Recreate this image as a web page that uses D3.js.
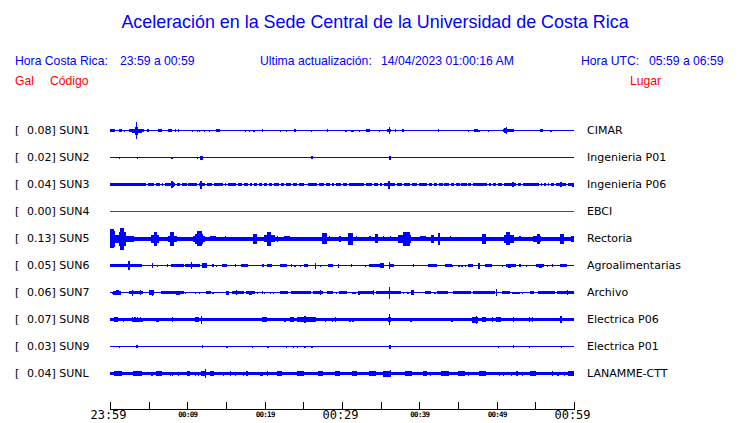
<!DOCTYPE html>
<html><head><meta charset="utf-8">
<script src="https://cdn.jsdelivr.net/npm/d3@7"></script>
<style>
html,body{margin:0;padding:0;background:#fff;}
svg{display:block;}
text{white-space:pre;}
</style></head>
<body>
<svg id="c" width="740" height="423"></svg>
<script>
// ---------------- DATA ----------------
const title = "Aceleración en la Sede Central de la Universidad de Costa Rica";
const stations = ["SUN1","SUN2","SUN3","SUN4","SUN5","SUN6","SUN7","SUN8","SUN9","SUNL"];
const peakGal = [0.08,0.02,0.04,0.00,0.13,0.05,0.06,0.07,0.03,0.04];
const places = ["CIMAR","Ingenieria P01","Ingenieria P06","EBCI","Rectoria","Agroalimentarias","Archivo","Electrica P06","Electrica P01","LANAMME-CTT"];
const traceColors = ["#0000ff","#0000ff","#0000ff","#ff0000","#0000ff","#0000ff","#0000ff","#0000ff","#0000ff","#0000ff"];
// background (noise) half-amplitude of each trace
const baseAmp = [0.5,0.5,1.5,0.5,2,0.5,0.5,1.5,0.5,1.5];
// bursts per station: [start minute, end minute, half amplitude] (minutes after 23:59)
const evSUN1 = [[0,0.6,1.5],[1.2,1.4,1.5],[1.8,1.8,1],[2.5,3.2,1.5],[2.9,4.0,2],[3.3,3.5,4],[3.4,3.4,8.7],[3.4,4.3,1.5],
 [4.8,5.0,1.5],[6.3,6.6,1.5],[7.5,7.9,1.5],[8.4,8.4,1.5],[8.8,8.8,1.5],[10.6,10.6,1],[11.25,11.25,1],[11.6,11.6,1],
 [12.2,12.2,1],[12.8,12.8,1],[13.7,14.1,1.5],[15.8,15.8,0.8],[17.5,17.5,1],[18.0,18.0,1],[18.6,18.6,1],[19.7,19.7,1.5],
 [22.0,22.0,1],[22.8,22.8,1],[23.9,23.9,1.5],[26.0,26.0,1],[28.1,28.1,1.5],[30.5,30.5,1],[31.2,31.2,1],[31.4,31.4,1],
 [32.2,32.2,1],[33.2,33.5,1.5],[34.8,34.8,1],[35.2,35.2,0.8],[35.9,36.2,1.5],[36.1,36.1,3.5],[36.9,36.9,1.5],
 [37.8,37.9,1.5],[39.2,39.2,0.8],[42.4,42.4,1.5],[46.3,46.3,1],[47.1,47.5,1.5],[47.7,47.7,1],[48.9,48.9,1],
 [50.9,52.1,1.5],[51.0,51.3,2.5],[51.2,51.2,3.5],[55.6,55.9,1.5],[57.0,57.0,1],[59.9,59.9,0.8]];
const evSUN2 = [[1.2,1.2,1],[3.5,3.5,1],[8.0,8.0,1],[11.25,11.25,1],[11.7,11.9,2],[26.1,26.1,1.5],[36.1,36.3,2]];
const evSUN3 = [[7.9,8.2,2.5],[8.0,8.0,3.5],[11.7,11.8,4],[36.0,36.1,4],[52.0,52.2,2.5],[58.3,58.4,2.5],[59.8,59.9,2]];
const quietSUN3 = [4.7,5.8,6.6,7.0,8.5,9.2,10.0,11.3,12.4,13.3,14.7,15.1,16.4,17.2,18.0,18.5,19.1,19.8,20.4,21.1,
 22.0,22.6,23.5,24.3,25.2,25.5,26.9,27.8,28.5,29.1,30.0,30.7,33.0,34.0,34.7,35.3,36.9,37.9,38.9,39.8,41.1,41.8,
 42.4,43.1,44.0,44.6,45.3,46.2,46.8,48.9,49.4,50.0,50.8,52.6,53.3,55.6,56.0,56.5,56.9,57.5,59.1];
const evSUN4 = [];
const evSUN5 = [[0,0.6,8],[0.1,0.4,9.5],[0.6,1.1,4],[1.2,2.0,7],[1.3,1.7,11],[2.0,3.0,3],[5.4,6.2,4],[5.7,6.0,7],
 [7.6,8.6,3],[7.8,8.2,7],[10.8,12.2,3],[11.0,11.9,5],[11.3,11.8,7.5],[13.0,13.6,2.5],[14.9,14.9,2.5],[18.5,18.9,5],
 [20.0,21.3,3.5],[20.3,20.7,7],[21.6,21.6,3],[22.6,23.2,2.5],[27.5,27.9,5.5],[28.4,28.4,2.5],[29.7,29.8,3],
 [30.8,31.3,6],[31.8,31.8,2.5],[33.6,33.6,2.5],[34.3,34.5,4.5],[35.3,35.3,2.5],[36.2,36.2,2.5],[37.3,38.8,4],
 [38.0,38.7,7],[40.1,40.7,2.5],[41.6,41.8,4],[42.5,42.6,6],[44.0,44.0,2.5],[48.2,48.5,5],[51.0,52.1,4],[51.3,51.6,6.5],
 [53.0,53.0,2.5],[54.7,55.6,3],[55.3,55.5,5],[58.3,58.6,5],[59.6,60,3]];
const evSUN6 = [[0,0.8,1.5],[1.0,2.2,1.5],[2.4,2.5,4.5],[2.6,4.0,1.5],[5.5,5.5,2.5],[6.1,6.1,1],[7.4,7.4,1.5],[8.0,9.5,1.5],
 [9.8,11.6,1.5],[10.5,10.5,3.5],[12.0,12.4,2.5],[13.3,13.3,1.5],[13.8,13.8,1],[14.5,15.0,1.5],[16.2,16.2,1.5],
 [17.0,17.8,1.5],[19.7,19.8,1.5],[20.3,20.8,1.5],[22.0,22.8,1.5],[23.4,23.4,1.5],[23.9,23.9,1],[24.6,24.6,1],
 [25.2,25.5,1.5],[26.6,26.6,3],[27.2,27.2,1],[28.2,28.8,1.5],[29.5,29.5,2],[31.2,31.2,1.5],[33.0,33.0,1],
 [33.5,34.3,1.5],[34.5,35.3,1.5],[34.9,35.3,2.5],[36.1,36.1,3.5],[36.2,36.6,1.5],[39.2,39.2,1.5],[41.2,42.0,1.5],
 [42.2,42.2,1.5],[43.4,44.1,1.5],[44.2,44.2,1],[45.1,45.1,1],[45.5,45.5,1],[45.9,45.9,1],[46.3,46.9,1.5],[47.7,47.7,3],
 [48.5,49.3,1.5],[50.7,50.7,1],[51.2,52.4,1.5],[51.5,51.8,2],[53.0,53.0,1.5],[53.8,53.8,1],[55.2,56.0,1.5],
 [55.5,55.7,2],[56.5,56.5,1],[57.2,57.2,1.5],[58.2,59.0,1.5]];
const evSUN7 = [[0.3,0.3,1],[0.5,1.3,2],[0.8,1.0,2.5],[2.5,4.2,1.5],[2.9,2.9,3],[3.9,3.9,2.5],[5.1,5.6,2.5],[5.5,5.5,3],
 [6.7,7.8,1.5],[8.0,9.5,1.5],[8.6,9.0,2],[9.7,9.7,1],[11.0,11.0,1],[11.6,11.6,1],[12.4,12.9,1.5],[13.3,13.3,1],
 [15.0,15.3,2],[15.8,17.2,1.5],[16.3,16.3,2.5],[17.7,18.7,1.5],[18.0,18.3,2],[19.1,19.1,1],[19.7,19.7,1.5],[20.0,20.0,1],
 [20.7,20.7,1],[21.1,21.1,1],[22.0,22.9,1.5],[23.5,25.9,1.5],[26.3,27.5,1.5],[27.2,27.2,2.5],[28.1,28.8,1.5],
 [29.3,29.3,1],[29.7,30.5,1.5],[31.3,31.7,1],[32.1,32.2,2],[32.3,34.0,1.5],[34.0,34.0,2.5],[34.5,36.0,1.5],
 [36.1,36.1,6],[36.2,37.5,1.5],[37.9,37.9,1],[38.5,38.5,1],[39.0,39.2,2.5],[40.8,41.4,1.5],[42.0,42.0,1],
 [42.3,43.6,1.5],[44.4,46.6,1.5],[47.0,49.7,1.5],[49.9,49.9,3.5],[50.7,51.6,1.5],[52.0,52.9,1],[53.3,53.3,1],
 [54.3,54.7,1.5],[55.4,57.4,1.5],[57.9,60,1.5],[59.1,59.1,2.5]];
const evSUN8 = [[0.6,0.9,2.5],[1.7,1.7,2],[2.9,4.2,2],[2.9,2.9,2.5],[3.2,3.2,2.5],[3.5,3.5,2.5],[3.9,3.9,2.5],[6.0,6.3,2],
 [8.1,8.1,2.5],[11.0,11.4,2.5],[11.8,11.8,4],[19.7,20.2,2.5],[22.6,22.6,2],[23.3,23.7,2.5],[24.2,26.5,2.5],
 [25.2,25.2,3.5],[27.8,27.8,2],[28.7,28.7,2],[29.1,29.1,2.5],[31.0,31.0,2],[31.4,31.4,2],[36.0,36.2,2.5],
 [36.1,36.1,5.5],[38.9,38.9,2],[44.2,44.2,2],[46.9,47.5,3],[47.4,47.4,4],[48.1,48.5,2.5],[49.4,49.4,2.5],
 [49.9,50.4,2.5],[52.1,52.1,2.5],[54.2,54.2,2.5],[54.6,54.6,2.5],[58.3,58.3,3.5]];
const evSUN9 = [[1.2,1.2,1],[2.5,2.5,0.8],[3.4,3.5,1.5],[11.9,11.9,1.5],[15.1,15.1,1],[18.4,18.4,1],[20.4,20.4,1],
 [20.8,20.8,0.8],[21.1,21.1,0.8],[22.8,22.8,1],[23.7,23.7,1],[24.2,24.2,1],[25.2,25.2,1],[26.1,26.1,1],[27.9,27.9,0.8],
 [36.1,36.3,2],[36.6,36.6,0.8],[40.5,40.5,0.8],[41.4,41.4,0.8],[50.2,50.2,1],[52.1,52.1,1.5],[52.5,52.5,0.8],
 [54.2,54.2,1],[58.4,58.4,1]];
const evSUNL = [[0.6,1.5,2.5],[3.0,3.4,2.5],[3.6,4.1,2.5],[5.4,5.4,2],[6.0,6.6,2.5],[7.8,7.8,2],[8.1,8.1,2],[8.8,8.8,2],
 [10.0,10.3,2.5],[11.0,11.0,2],[11.4,11.4,2],[11.8,12.3,2.5],[12.3,12.3,4.3],[13.0,13.4,2.5],[14.7,14.7,2],
 [15.6,15.6,2.5],[16.2,16.2,2],[17.2,17.2,2],[17.7,17.7,2.5],[19.4,19.7,2],[20.3,20.3,2.5],[21.7,22.2,2.5],
 [24.2,25.0,2.5],[26.9,27.5,2.5],[29.1,29.7,2.5],[31.3,31.9,2.5],[33.5,34.3,2.5],[35.4,36.2,3],[36.2,36.2,3.5],
 [38.2,39.0,2.5],[40.5,40.9,2.5],[41.4,41.4,2],[42.9,43.7,2.5],[45.0,45.8,2.5],[46.3,46.3,2],[47.8,48.5,2.5],
 [50.3,50.3,2],[50.9,50.9,2],[51.9,51.9,2],[52.6,52.6,2.5],[53.3,53.3,2],[54.4,55.0,2.5],[57.2,57.2,2.5],
 [57.9,57.9,2],[58.7,58.7,2],[59.3,59.9,2.5]];
const events = [evSUN1,evSUN2,evSUN3,evSUN4,evSUN5,evSUN6,evSUN7,evSUN8,evSUN9,evSUNL];
const quiet = [[],[],quietSUN3,[],[],[],[],[],[],[]];
// time axis
const startTime = new Date(2023,3,13,23,59,0);
const endTime = new Date(2023,3,14,0,59,0);
const tickLabels = ["23:59","","00:09","","00:19","","00:29","","00:39","","00:49","","00:59"];
const bigLabels = ["23:59","00:29","00:59"];

// ---------------- DRAW ----------------
const svg = d3.select("#c");
const blue = "#0000ff", red = "#ff0000";
const sans = "'Liberation Sans', Arial, sans-serif";
const dejavu = "'DejaVu Sans', sans-serif";

svg.append("text").attr("x",375).attr("y",28).attr("text-anchor","middle")
  .attr("font-family",sans).attr("font-size",17.9).attr("fill",blue).text(title);

const hdr = [
  ["Hora Costa Rica:",15,65,blue],["23:59 a 00:59",120,65,blue],
  ["Ultima actualización:",260,65,blue],["14/04/2023 01:00:16 AM",381,65,blue],
  ["Hora UTC:",581,65,blue],["05:59 a 06:59",649,65,blue],
  ["Gal",15,85,red],["Código",50,85,red],["Lugar",630,85,red]
];
svg.selectAll("text.hdr").data(hdr).join("text").attr("class","hdr")
  .attr("x",d=>d[1]).attr("y",d=>d[2]).attr("fill",d=>d[3])
  .attr("font-family",sans).attr("font-size",12.2).text(d=>d[0]);

const x = d3.scaleTime().domain([startTime,endTime]).range([110,574]);
const minToDate = m => new Date(startTime.getTime()+m*60000);
const y = d3.scalePoint().domain(stations).range([130.5,373.5]);
const amp = d3.scaleLinear().domain([0,1]).range([0,1]);

// left labels
const rows = stations.map((s,i)=>({code:s,peak:peakGal[i],place:places[i],i}));
const lab = svg.append("g").attr("font-family",dejavu).attr("font-size",11).attr("fill","#000");
lab.selectAll("text.b").data(rows).join("text").attr("class","b")
  .attr("x",15).attr("y",d=>y(d.code)+3.5).text("[");
lab.selectAll("text.v").data(rows).join("text").attr("class","v")
  .attr("x",27).attr("y",d=>y(d.code)+3.5).text(d=>d.peak.toFixed(2)+"] "+d.code);
lab.selectAll("text.p").data(rows).join("text").attr("class","p")
  .attr("x",587).attr("y",d=>y(d.code)+3.5).text(d=>d.place);

// traces (envelopes built from burst lists)
const step = 0.05, pad = 0.07;
const samples = d3.range(0, 60+step/2, step);
rows.forEach(r=>{
  const ev = events[r.i], q = quiet[r.i], b = baseAmp[r.i];
  const env = samples.map(t=>{
    let a = b;
    if (q.some(g=>Math.abs(t-g)<=0.12)) a = 0.5;
    ev.forEach(e=>{ if (t>=e[0]-pad && t<=e[1]+pad && e[2]>a) a = e[2]; });
    return {t, a};
  });
  const area = d3.area().curve(d3.curveStepAfter)
    .x(d=>x(minToDate(d.t)))
    .y0(d=>y(r.code)+amp(d.a)).y1(d=>y(r.code)-amp(d.a));
  svg.append("path").datum(env).attr("d",area)
    .attr("fill",traceColors[r.i]).attr("shape-rendering","crispEdges");
});

// axis
const ticks = d3.range(0,13).map(k=>minToDate(k*5));
const axis = d3.axisBottom(x).tickValues(ticks).tickSize(0).tickFormat("");
const ag = svg.append("g").attr("transform","translate(0,409.5)").call(axis);
ag.select(".domain").attr("stroke","#000").attr("d","M110,0H574");
ag.selectAll(".tick").append("line").attr("y1",-8).attr("y2",0).attr("stroke","#000").attr("shape-rendering","crispEdges");
ag.selectAll(".tick").append("text").each(function(d,i){
  const t = tickLabels[i];
  const big = bigLabels.includes(t);
  d3.select(this).attr("y", big?9.5:7.5).attr("text-anchor","middle")
    .attr("fill","#000").attr("font-family","'DejaVu Sans Mono', monospace")
    .attr("font-size", big?12:7.5).attr("font-weight", big?"normal":"bold")
    .attr("letter-spacing", big?0:-0.7).attr("dx", big?-2:0).text(t);
});
</script>
</body></html>
